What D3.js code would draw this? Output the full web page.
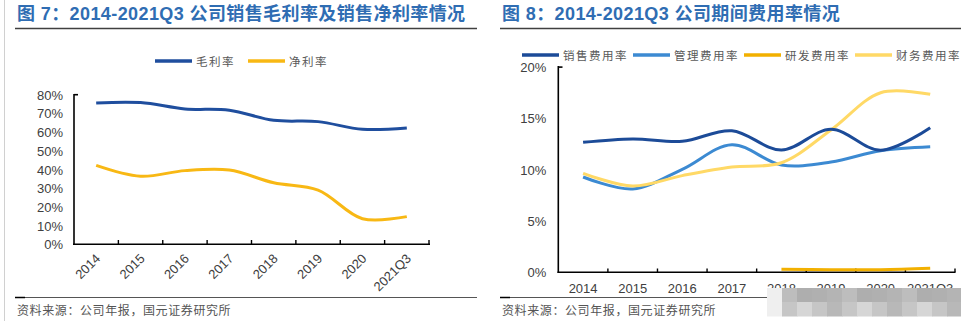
<!DOCTYPE html>
<html lang="zh">
<head>
<meta charset="UTF-8">
<title>毛利率及期间费用率</title>
<script src="https://d3js.org/d3.v7.min.js"></script>
<style>
  html, body { margin: 0; padding: 0; background: #fff; }
  svg { display: block; }
  .title { font-family: Arial, "Noto Sans CJK SC", sans-serif; font-weight: bold; font-size: 18px; fill: #2f6db3; letter-spacing: 0.4px; }
  .src { font-family: "Noto Sans CJK SC", sans-serif; font-size: 12px; fill: #555; letter-spacing: 0.6px; }
  .leg { font-family: "Noto Sans CJK SC", sans-serif; font-size: 11.5px; fill: #595959; letter-spacing: 1.5px; }
  .tick text, .lab { font-family: Arial, "Liberation Sans", sans-serif; font-size: 13px; fill: #404040; }
</style>
</head>
<body>
<script>
// ---- data ----
const years = ["2014", "2015", "2016", "2017", "2018", "2019", "2020", "2021Q3"];

// left chart: 毛利率 / 净利率
const grossMargin = [0.756, 0.758, 0.724, 0.717, 0.663, 0.656, 0.615, 0.622];
const netMargin   = [0.422, 0.364, 0.394, 0.397, 0.329, 0.290, 0.137, 0.148];
const leftTicks = [0, 0.1, 0.2, 0.3, 0.4, 0.5, 0.6, 0.7, 0.8];

// right chart: expense ratios
const sellingRate = [0.1267, 0.1300, 0.1277, 0.1380, 0.1192, 0.1394, 0.1190, 0.1410];
const adminRate   = [0.0929, 0.0812, 0.1004, 0.1244, 0.1046, 0.1075, 0.1185, 0.1224];
const rdRate      = [null, null, null, null, 0.0030, 0.0025, 0.0026, 0.0040];
const financeRate = [0.0965, 0.0841, 0.0942, 0.1026, 0.1068, 0.1387, 0.1750, 0.1735];
const rightTicks = [0, 0.05, 0.10, 0.15, 0.20];

const W = 961, H = 321;
const svg = d3.select("body").append("svg").attr("width", W).attr("height", H);

// page frame bits
svg.append("line").attr("x1", 4.5).attr("x2", 4.5).attr("y1", 0).attr("y2", H)
   .attr("stroke", "#d0d0d0").attr("stroke-width", 1);

function frame(x0, x1, title) {
  svg.append("text").attr("class", "title").attr("x", x0 + 2).attr("y", 20).text(title);
  svg.append("line").attr("x1", x0).attr("x2", x1).attr("y1", 28.5).attr("y2", 28.5)
     .attr("stroke", "#404040").attr("stroke-width", 1.6);
  svg.append("line").attr("x1", x0).attr("x2", x1).attr("y1", 297.5).attr("y2", 297.5)
     .attr("stroke", "#555").attr("stroke-width", 1);
  svg.append("line").attr("x1", x0).attr("x2", x0 + 10).attr("y1", 297.5).attr("y2", 297.5)
     .attr("stroke", "#000").attr("stroke-width", 1.5);
  svg.append("text").attr("class", "src").attr("x", x0 + 2).attr("y", 315).text("资料来源：公司年报，国元证券研究所");
}

frame(15, 477, "图 7：2014-2021Q3 公司销售毛利率及销售净利率情况");
frame(500, 961, "图 8：2014-2021Q3 公司期间费用率情况");

function legendItem(x, y, color, label) {
  svg.append("line").attr("x1", x).attr("x2", x + 37).attr("y1", y).attr("y2", y)
     .attr("stroke", color).attr("stroke-width", 3.5);
  svg.append("text").attr("class", "leg").attr("x", x + 41).attr("y", y + 4.5).text(label);
}

const curve = d3.curveCatmullRom.alpha(0.5);

// ---- left chart ----
{
  const x = d3.scaleBand().domain(years).range([74, 429]);
  const y = d3.scaleLinear().domain([0, 0.8]).range([244.3, 94.7]);
  const cx = d => x(d) + x.bandwidth() / 2;

  legendItem(155, 61, "#1f4e9e", "毛利率");
  legendItem(248, 61, "#f8b814", "净利率");

  const yAx = svg.append("g").attr("transform", "translate(74,0)")
    .call(d3.axisLeft(y).tickValues(leftTicks).tickFormat(d3.format(".0%")).tickSize(0).tickPadding(11));
  yAx.select(".domain").remove();
  yAx.selectAll(".tick text").attr("dy", "0.35em");

  const xAx = svg.append("g").attr("transform", "translate(0,244.3)")
    .call(d3.axisBottom(x).tickSize(0).tickPadding(0));
  xAx.select(".domain").remove();
  xAx.selectAll(".tick text")
     .attr("text-anchor", "end").attr("dy", 0).attr("y", 0)
     .attr("transform", "translate(5,15) rotate(-45)");

  // axis lines
  svg.append("line").attr("x1", 74).attr("x2", 74).attr("y1", 94).attr("y2", 245)
     .attr("stroke", "#000").attr("stroke-width", 1.6);
  svg.append("line").attr("x1", 74).attr("x2", 78).attr("y1", 94.7).attr("y2", 94.7)
     .attr("stroke", "#000").attr("stroke-width", 1.6);
  svg.append("line").attr("x1", 73).attr("x2", 430).attr("y1", 244.3).attr("y2", 244.3)
     .attr("stroke", "#000").attr("stroke-width", 1.6);
  years.forEach(d => {
    const bx = x(d) + x.bandwidth();
    svg.append("line").attr("x1", bx).attr("x2", bx).attr("y1", 240).attr("y2", 244.3)
       .attr("stroke", "#000").attr("stroke-width", 1.4);
  });

  const line = d3.line().x((v, i) => cx(years[i])).y(v => y(v)).curve(curve);
  [[grossMargin, "#1f4e9e"], [netMargin, "#f8b814"]].forEach(([vals, col]) => {
    svg.append("path").datum(vals).attr("d", line)
       .attr("fill", "none").attr("stroke", col).attr("stroke-width", 3);
  });
}

// ---- right chart ----
{
  const x = d3.scaleBand().domain(years).range([558.3, 955]);
  const y = d3.scaleLinear().domain([0, 0.2]).range([272.3, 67.1]);
  const cx = d => x(d) + x.bandwidth() / 2;

  legendItem(522, 55, "#1c4b98", "销售费用率");
  legendItem(633, 55, "#3c8ad2", "管理费用率");
  legendItem(744, 55, "#f2b000", "研发费用率");
  legendItem(855, 55, "#ffd966", "财务费用率");

  const yAx = svg.append("g").attr("transform", "translate(558.3,0)")
    .call(d3.axisLeft(y).tickValues(rightTicks).tickFormat(d3.format(".0%")).tickSize(0).tickPadding(12));
  yAx.select(".domain").remove();
  yAx.selectAll(".tick text").attr("dy", "0.35em");

  const xAx = svg.append("g").attr("transform", "translate(0,272.3)")
    .call(d3.axisBottom(x).tickSize(0).tickPadding(11));
  xAx.select(".domain").remove();

  svg.append("line").attr("x1", 558.3).attr("x2", 558.3).attr("y1", 66).attr("y2", 273)
     .attr("stroke", "#000").attr("stroke-width", 1.6);
  svg.append("line").attr("x1", 558.3).attr("x2", 562.5).attr("y1", 67.1).attr("y2", 67.1)
     .attr("stroke", "#000").attr("stroke-width", 1.6);
  svg.append("line").attr("x1", 557.5).attr("x2", 955.5).attr("y1", 272.3).attr("y2", 272.3)
     .attr("stroke", "#000").attr("stroke-width", 1.6);
  years.forEach(d => {
    const bx = x(d) + x.bandwidth();
    svg.append("line").attr("x1", bx).attr("x2", bx).attr("y1", 268.5).attr("y2", 272.3)
       .attr("stroke", "#000").attr("stroke-width", 1.4);
  });

  const line = d3.line().defined(v => v != null)
    .x((v, i) => cx(years[i])).y(v => y(v)).curve(curve);
  [[rdRate, "#f2b000"], [adminRate, "#3c8ad2"], [financeRate, "#ffd966"], [sellingRate, "#1c4b98"]]
    .forEach(([vals, col]) => {
      svg.append("path").datum(vals).attr("d", line)
         .attr("fill", "none").attr("stroke", col).attr("stroke-width", 3);
    });

  // pixelated watermark over the last labels
  const greys = ["#b4b4b4", "#d2d2d2", "#c6c6c6", "#bdbdbd", "#c9c9c9", "#b8b8b8", "#aeaeae", "#bcbcbc", "#c6c6c6", "#b0b0b0", "#c0c0c0", "#d6d6d6"];
  const wm = svg.append("g");
  for (let r = 0; r < 2; r++) {
    for (let c = 0; c < 13; c++) {
      const fill = c === 0 ? "#efefef" : greys[(c * 3 + r * 5) % greys.length];
      wm.append("rect").attr("x", 767 + c * 15).attr("y", 288 + r * 14)
        .attr("width", 15.5).attr("height", 14.5).attr("fill", fill);
    }
  }
}
</script>
</body>
</html>
